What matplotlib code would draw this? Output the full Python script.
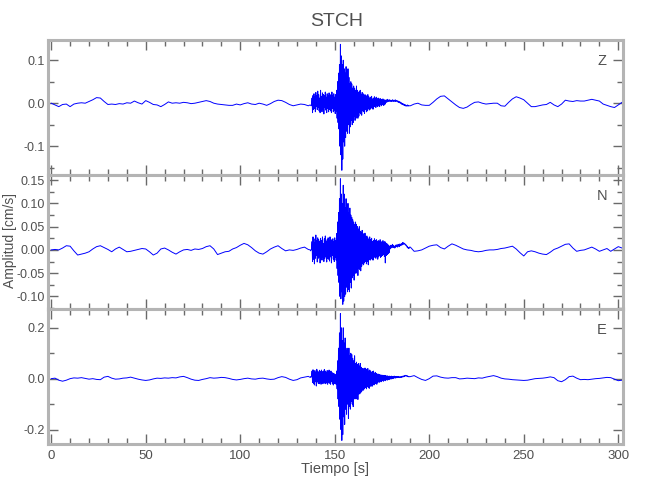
import numpy as np
import matplotlib
matplotlib.use("Agg")
import matplotlib.pyplot as plt
from matplotlib.ticker import MultipleLocator, FormatStrFormatter

plt.rcParams['font.family'] = ['Liberation Sans', 'DejaVu Sans']

# ---------------- data (cm/s) ----------------
station = "STCH"
components = ["Z", "N", "E"]

# pre-event background, sampled every 2 s starting at 0 s
z_pre = [0.0, -0.004, -0.008, -0.003, -0.002, -0.008, -0.002, 0.0, 0.001, 0.0,
         0.004, 0.008, 0.013, 0.012, 0.004, -0.003, -0.002, -0.003, -0.001, -0.002,
         0.001, 0.0, 0.005, 0.001, -0.002, 0.006, 0.002, -0.003, -0.004, -0.008,
         -0.003, 0.003, 0.0, 0.001, 0.0, 0.002, 0.001, -0.001, 0.0, 0.002,
         0.004, 0.006, 0.004, 0.0, -0.002, -0.003, -0.004, -0.005, -0.005, -0.002,
         -0.004, -0.001, 0.001, -0.002, -0.003, 0.0, -0.002, -0.005, -0.001, 0.004,
         0.007, 0.006, 0.002, -0.003, -0.006, -0.004, -0.002, -0.003, -0.006]
n_pre = [0.0, 0.001, 0.0, 0.004, 0.009, 0.008, -0.002, -0.011, -0.009, -0.007,
         -0.004, 0.002, 0.007, 0.009, 0.005, 0.001, -0.004, 0.002, 0.006, 0.001,
         -0.004, -0.003, -0.001, 0.001, 0.003, 0.002, -0.004, -0.011, -0.007, 0.002,
         0.004, 0.0, -0.005, -0.009, -0.004, 0.0, 0.001, -0.001, 0.002, 0.001,
         0.003, 0.007, 0.009, 0.002, -0.01, -0.007, -0.004, -0.003, 0.002, 0.005,
         0.01, 0.014, 0.011, 0.005, -0.002, -0.007, -0.009, -0.004, 0.002, 0.006,
         0.009, 0.003, -0.002, 0.0, -0.001, 0.001, 0.004, 0.006, 0.001]
e_pre = [0.0, 0.002, -0.006, -0.01, -0.006, 0.0, 0.003, 0.002, 0.004, 0.001,
         -0.002, 0.0, -0.003, -0.004, 0.006, 0.009, 0.002, -0.002, -0.001, 0.002,
         0.003, 0.006, 0.002, -0.002, -0.005, -0.007, -0.005, -0.001, 0.002, 0.001,
         0.003, 0.002, 0.004, 0.003, 0.007, 0.009, 0.004, -0.002, -0.006, -0.007,
         -0.003, 0.0, 0.004, 0.002, 0.003, 0.005, 0.004, 0.001, -0.003, -0.005,
         -0.003, 0.0, 0.002, -0.001, -0.002, 0.001, 0.002, -0.001, -0.003, -0.002,
         0.004, 0.008, 0.005, -0.002, -0.007, -0.004, 0.003, 0.006, 0.009]

# event window, sampled every 0.25 s starting at 137 s
z_evt = [-0.004, -0.005, -0.006, -0.004, 0.012, -0.022, 0.018, -0.015,
         0.022, -0.012, 0.015, -0.02, 0.025, -0.008, 0.018, -0.015,
         0.028, -0.01, 0.02, -0.018, 0.012, -0.022, 0.03, -0.012,
         0.016, -0.02, 0.024, -0.014, 0.02, -0.025, 0.018, -0.01,
         0.026, -0.016, 0.014, -0.022, 0.022, -0.012, 0.018, -0.02,
         0.024, -0.015, 0.02, -0.018, 0.015, -0.022, 0.026, -0.012,
         0.018, -0.02, 0.022, -0.016, 0.014, -0.024, 0.02, -0.018,
         0.03, -0.035, 0.05, -0.045, 0.07, -0.06, 0.09, -0.1,
         0.137, -0.12, 0.11, -0.156, 0.09, -0.13, 0.1, -0.09,
         0.08, -0.1, 0.07, -0.08, 0.085, -0.065, 0.06, -0.07,
         0.08, -0.05, 0.06, -0.07, 0.045, -0.055, 0.05, -0.04,
         0.045, -0.05, 0.035, -0.045, 0.04, -0.03, 0.035, -0.04,
         0.03, -0.035, 0.04, -0.025, 0.03, -0.035, 0.025, -0.03,
         0.028, -0.022, 0.03, -0.025, 0.02, -0.028, 0.025, -0.018,
         0.022, -0.02, 0.018, -0.024, 0.02, -0.015, 0.018, -0.02,
         0.016, -0.018, 0.02, -0.012, 0.015, -0.016, 0.012, -0.014,
         0.014, -0.01, 0.016, -0.012, 0.01, -0.014, 0.012, -0.008,
         0.015, -0.008, 0.012, -0.01, 0.014, -0.006, 0.01, -0.008,
         0.012, -0.005, 0.009, -0.008, 0.011, -0.004, 0.008, -0.006,
         0.009, -0.003, 0.01, -0.005, 0.007, -0.004, 0.008, -0.002,
         0.006, 0.002, 0.008, 0.003, 0.009, 0.004, 0.007, 0.005,
         0.008, 0.004, 0.007, 0.005, 0.006, 0.004, 0.008, 0.005,
         0.007, 0.004, 0.006, 0.005, 0.008, 0.004, 0.006, 0.005,
         0.006, 0.003, 0.005, 0.002, 0.004, 0.001, 0.003, 0.0,
         0.002, -0.002, 0.0, -0.003, -0.001, -0.004, -0.002, -0.005,
         -0.003, -0.006, -0.004, -0.007, -0.005, -0.006, -0.004, -0.007,
         -0.005, -0.006, -0.006, -0.006]
n_evt = [0.0, -0.002, 0.0, 0.002, 0.018, -0.025, 0.028, -0.02,
         0.024, -0.03, 0.015, -0.018, 0.032, -0.012, 0.02, -0.026,
         0.026, -0.018, 0.022, -0.015, 0.018, -0.028, 0.025, -0.012,
         0.02, -0.022, 0.028, -0.016, 0.014, -0.025, 0.024, -0.018,
         0.03, -0.014, 0.018, -0.026, 0.022, -0.018, 0.026, -0.02,
         0.02, -0.024, 0.028, -0.015, 0.016, -0.028, 0.022, -0.012,
         0.024, -0.02, 0.018, -0.025, 0.026, -0.016, 0.02, -0.022,
         0.035, -0.04, 0.06, -0.055, 0.08, -0.07, 0.11, -0.1,
         0.153, -0.105, 0.12, -0.09, 0.1, -0.117, 0.139, -0.11,
         0.12, -0.1, 0.09, -0.095, 0.11, -0.08, 0.095, -0.09,
         0.1, -0.085, 0.08, -0.09, 0.09, -0.07, 0.075, -0.082,
         0.07, -0.06, 0.065, -0.055, 0.06, -0.065, 0.055, -0.05,
         0.06, -0.05, 0.055, -0.045, 0.05, -0.055, 0.045, -0.04,
         0.05, -0.042, 0.04, -0.045, 0.038, -0.035, 0.042, -0.03,
         0.035, -0.032, 0.03, -0.028, 0.036, -0.025, 0.028, -0.03,
         0.03, -0.025, 0.026, -0.032, 0.022, -0.02, 0.028, -0.022,
         0.022, -0.018, 0.025, -0.02, 0.018, -0.022, 0.02, -0.015,
         0.024, -0.016, 0.02, -0.018, 0.022, -0.014, 0.018, -0.02,
         0.02, -0.015, 0.018, -0.012, 0.022, -0.016, 0.015, -0.014,
         0.018, -0.012, 0.02, -0.01, 0.016, -0.014, 0.018, -0.028,
         0.015, -0.012, 0.014, -0.01, 0.012, -0.008, 0.01, -0.006,
         0.008, 0.002, 0.01, 0.004, 0.009, 0.005, 0.012, 0.006,
         0.01, 0.005, 0.008, 0.004, 0.009, 0.006, 0.011, 0.007,
         0.01, 0.006, 0.012, 0.008, 0.011, 0.007, 0.013, 0.009,
         0.012, 0.01, 0.014, 0.011, 0.016, 0.012, 0.015, 0.013,
         0.014, 0.011, 0.012, 0.009, 0.01, 0.006, 0.007, 0.004,
         0.005, 0.003, 0.006, 0.006]
e_evt = [0.005, 0.008, 0.006, 0.01, 0.03, -0.015, 0.035, -0.02,
         0.028, -0.025, 0.032, -0.012, 0.025, -0.029, 0.037, -0.01,
         0.03, -0.018, 0.026, -0.02, 0.033, -0.015, 0.028, -0.022,
         0.034, -0.012, 0.027, -0.02, 0.03, -0.016, 0.036, -0.018,
         0.03, -0.02, 0.025, -0.015, 0.032, -0.022, 0.028, -0.014,
         0.034, -0.018, 0.026, -0.022, 0.03, -0.012, 0.024, -0.02,
         0.022, -0.025, 0.02, -0.018, 0.018, -0.02, 0.015, -0.022,
         0.03, -0.04, 0.07, -0.08, 0.12, -0.11, 0.18, -0.16,
         0.256, -0.2, 0.2, -0.243, 0.15, -0.22, 0.2, -0.15,
         0.14, -0.18, 0.16, -0.12, 0.11, -0.14, 0.12, -0.1,
         0.1, -0.157, 0.12, -0.11, 0.09, -0.12, 0.1, -0.09,
         0.095, -0.1, 0.08, -0.11, 0.07, -0.08, 0.09, -0.075,
         0.06, -0.08, 0.065, -0.07, 0.055, -0.082, 0.06, -0.06,
         0.05, -0.06, 0.06, -0.055, 0.045, -0.05, 0.04, -0.045,
         0.04, -0.045, 0.035, -0.04, 0.042, -0.035, 0.038, -0.04,
         0.035, -0.03, 0.04, -0.035, 0.03, -0.038, 0.034, -0.03,
         0.03, -0.028, 0.025, -0.03, 0.028, -0.022, 0.03, -0.025,
         0.022, -0.02, 0.025, -0.018, 0.02, -0.022, 0.018, -0.016,
         0.018, -0.012, 0.016, -0.014, 0.015, -0.01, 0.014, -0.012,
         0.014, -0.008, 0.012, -0.01, 0.013, -0.006, 0.012, -0.008,
         0.012, -0.004, 0.01, -0.006, 0.011, -0.002, 0.009, -0.004,
         0.01, 0.0, 0.009, -0.002, 0.01, 0.001, 0.008, 0.0,
         0.009, 0.002, 0.01, 0.003, 0.008, 0.002, 0.009, 0.004,
         0.008, 0.004, 0.009, 0.005, 0.008, 0.004, 0.007, 0.005,
         0.008, 0.005, 0.009, 0.006, 0.01, 0.007, 0.011, 0.008,
         0.012, 0.01, 0.013, 0.011, 0.012, 0.009, 0.011, 0.008,
         0.009, 0.007, 0.008, 0.008]

# post-event background, sampled every 2 s starting at 190 s
z_post = [-0.006, -0.002, 0.0, -0.004, -0.005, -0.005, 0.002, 0.01, 0.016, 0.017,
          0.01, 0.003, -0.004, -0.01, -0.012, -0.009, -0.003, 0.002, 0.003, 0.0,
          -0.002, -0.001, 0.0, 0.0, -0.006, -0.007, 0.002, 0.01, 0.015, 0.012,
          0.008, 0.0, -0.008, -0.008, -0.006, -0.004, -0.003, 0.002, -0.004, -0.008,
          -0.002, 0.007, 0.005, 0.004, 0.006, 0.005, 0.005, 0.007, 0.009, 0.007,
          0.005, -0.002, -0.005, -0.008, -0.01, -0.004, 0.002]
n_post = [0.006, -0.003, -0.002, 0.0, 0.004, 0.008, 0.01, 0.011, 0.005, 0.002,
          0.008, 0.013, 0.01, 0.006, 0.002, 0.0, -0.001, -0.003, -0.004, -0.003,
          -0.001, 0.0, 0.0, 0.001, 0.003, 0.004, 0.006, 0.008, 0.002, -0.006,
          -0.013, -0.004, -0.002, -0.004, -0.007, -0.009, -0.01, -0.005, 0.001, 0.004,
          0.008, 0.012, 0.013, 0.004, -0.003, -0.001, 0.0, 0.003, 0.006, 0.002,
          -0.003, 0.0, 0.003, -0.003, 0.002, 0.007, 0.004]
e_post = [0.008, 0.012, 0.004, -0.003, -0.007, 0.0, 0.01, 0.011, 0.006, 0.003,
          0.002, 0.004, 0.004, -0.001, 0.0, 0.002, 0.001, 0.0, 0.003, 0.002,
          0.006, 0.009, 0.012, 0.008, 0.002, -0.001, -0.002, -0.004, -0.005, -0.006,
          -0.007, -0.006, -0.003, 0.0, 0.001, 0.002, 0.004, 0.007, 0.004, -0.008,
          -0.012, -0.004, 0.008, 0.01, 0.002, -0.004, -0.003, -0.004, -0.002, 0.0,
          0.001, 0.003, 0.005, 0.004, -0.002, -0.008, -0.006]

traces = {"Z": (z_pre, z_evt, z_post),
          "N": (n_pre, n_evt, n_post),
          "E": (e_pre, e_evt, e_post)}

y_limits = {"Z": (-0.167, 0.147), "N": (-0.127, 0.161), "E": (-0.257, 0.274)}
y_major = {"Z": 0.1, "N": 0.05, "E": 0.2}
y_fmt = {"Z": "%.1f", "N": "%.2f", "E": "%.1f"}

x_limits = (-1.7, 302.5)

# ---------------- figure ----------------
fig = plt.figure(figsize=(6.5, 5.0), dpi=100)
W, H = 650.0, 500.0
left, right = 48 / W, 623 / W
panel_px = [(40, 175), (175, 309), (309, 444)]

txt_col = "#505050"
frame_col = "#b4b4b4"
tick_col = "#6a6a6a"

axes = []
for comp, (top, bot) in zip(components, panel_px):
    ax = fig.add_axes([left, 1 - bot / H, right - left, (bot - top) / H])
    pre, evt, post = traces[comp]
    t = np.concatenate([2.0 * np.arange(len(pre)),
                        137.0 + 0.25 * np.arange(len(evt)),
                        190.0 + 2.0 * np.arange(len(post))])
    v = np.concatenate([pre, evt, post])
    ax.plot(t, v, color="#0000ff", lw=0.7)
    ax.set_xlim(*x_limits)
    ax.set_ylim(*y_limits[comp])
    ax.xaxis.set_major_locator(MultipleLocator(50))
    ax.xaxis.set_minor_locator(MultipleLocator(10))
    ax.yaxis.set_major_locator(MultipleLocator(y_major[comp]))
    ax.yaxis.set_minor_locator(MultipleLocator(y_major[comp] / 2))
    ax.yaxis.set_major_formatter(FormatStrFormatter(y_fmt[comp]))
    ax.tick_params(which="both", direction="in", top=True, right=True,
                   color=tick_col, labelcolor=txt_col, labelsize=9)
    ax.tick_params(which="major", length=7, width=1, pad=2)
    ax.tick_params(which="minor", length=4, width=1)
    ax.tick_params(axis="x", pad=4, labelsize=9.5)
    for s in ax.spines.values():
        s.set_color(frame_col)
        s.set_linewidth(2.2)
    if comp != "E":
        ax.tick_params(axis="x", labelbottom=False)
    ax.text(0.972, 0.845, comp, transform=ax.transAxes, ha="right", va="center",
            color=txt_col, fontsize=10.5)
    axes.append(ax)

fig.text(0.518, 0.956, station, ha="center", va="center", color=txt_col, fontsize=14)
fig.text(0.516, 0.063, "Tiempo [s]", ha="center", va="center", color=txt_col, fontsize=10.5)
fig.text(0.015, 0.52, "Amplitud [cm/s]", ha="center", va="center", rotation=90,
         color=txt_col, fontsize=10)

fig.savefig("out.png", dpi=100)
